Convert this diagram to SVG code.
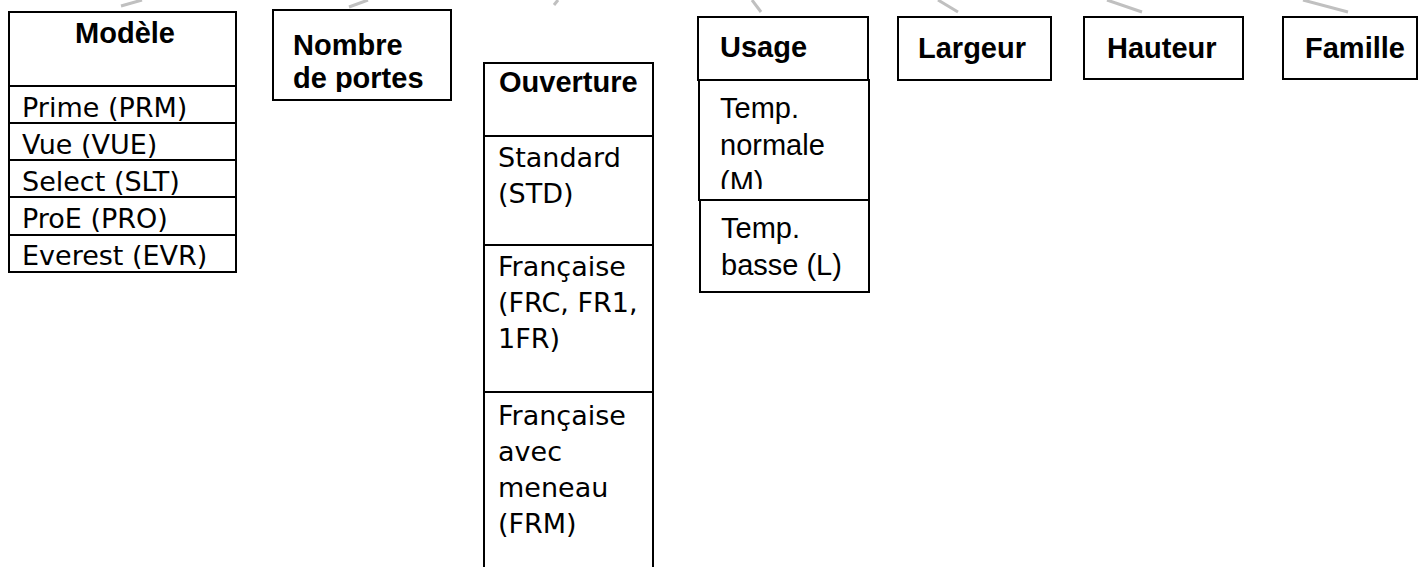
<svg xmlns="http://www.w3.org/2000/svg" width="1419" height="567" viewBox="0 0 1419 567">
<style>
.box{fill:#fff;stroke:#000;stroke-width:2}
.hd{font-family:"Liberation Sans",Arial,sans-serif;font-weight:bold;font-size:29px;fill:#000}
.cg{font-family:"DejaVu Sans","Liberation Sans",sans-serif;font-size:27px;fill:#000}
.ar{font-family:"Liberation Sans",Arial,sans-serif;font-size:29px;fill:#000}
.conn{stroke:#c0c0c0;stroke-width:3;fill:none}
</style>
<defs>
<clipPath id="clipNombre"><rect x="274" y="11" width="176" height="81"/></clipPath>
<clipPath id="clipNormale"><rect x="700" y="81" width="168" height="108"/></clipPath>
</defs>
<g id="connectors">
<line class="conn" x1="121" y1="6" x2="142" y2="0"/>
<line class="conn" x1="349" y1="7" x2="368" y2="0"/>
<line class="conn" x1="554" y1="5" x2="558" y2="0"/>
<line class="conn" x1="752" y1="0" x2="761" y2="12"/>
<line class="conn" x1="938" y1="0" x2="958" y2="12"/>
<line class="conn" x1="1107" y1="0" x2="1142" y2="12"/>
<line class="conn" x1="1303" y1="0" x2="1348" y2="12"/>
</g>
<g id="modele">
<rect class="box" x="9" y="12" width="227" height="260"/>
<line stroke="#000" stroke-width="2" x1="9" y1="86" x2="236" y2="86"/>
<line stroke="#000" stroke-width="2" x1="9" y1="123" x2="236" y2="123"/>
<line stroke="#000" stroke-width="2" x1="9" y1="160" x2="236" y2="160"/>
<line stroke="#000" stroke-width="2" x1="9" y1="197" x2="236" y2="197"/>
<line stroke="#000" stroke-width="2" x1="9" y1="235" x2="236" y2="235"/>
<text class="hd" x="125" y="43" text-anchor="middle">Modèle</text>
<text class="cg" x="22" y="117">Prime (PRM)</text>
<text class="cg" x="22" y="154">Vue (VUE)</text>
<text class="cg" x="22" y="191">Select (SLT)</text>
<text class="cg" x="22" y="228">ProE (PRO)</text>
<text class="cg" x="22" y="265">Everest (EVR)</text>
</g>
<g id="nombre">
<rect class="box" x="273" y="10" width="178" height="90"/>
<g clip-path="url(#clipNombre)">
<text class="hd" x="293" y="55">Nombre</text>
<text class="hd" x="293" y="88">de portes</text>
</g>
</g>
<g id="ouverture">
<rect class="box" x="484" y="63" width="169" height="540"/>
<line stroke="#000" stroke-width="2" x1="484" y1="136" x2="653" y2="136"/>
<line stroke="#000" stroke-width="2" x1="484" y1="245" x2="653" y2="245"/>
<line stroke="#000" stroke-width="2" x1="484" y1="392" x2="653" y2="392"/>
<text class="hd" x="499" y="92">Ouverture</text>
<text class="cg" x="498" y="167">Standard</text>
<text class="cg" x="498" y="203">(STD)</text>
<text class="cg" x="498" y="276">Française</text>
<text class="cg" x="498" y="312">(FRC, FR1,</text>
<text class="cg" x="498" y="348">1FR)</text>
<text class="cg" x="498" y="425">Française</text>
<text class="cg" x="498" y="461">avec</text>
<text class="cg" x="498" y="497">meneau</text>
<text class="cg" x="498" y="533">(FRM)</text>
</g>
<g id="usage">
<rect class="box" x="698" y="17" width="170" height="63"/>
<rect class="box" x="699" y="80" width="170" height="120"/>
<rect class="box" x="700" y="200" width="169" height="92"/>
<text class="hd" x="720" y="57">Usage</text>
<g clip-path="url(#clipNormale)">
<text class="ar" x="720" y="118">Temp.</text>
<text class="ar" x="720" y="155">normale</text>
<text class="ar" x="720" y="192">(M)</text>
</g>
<text class="ar" x="721" y="238">Temp.</text>
<text class="ar" x="721" y="275">basse (L)</text>
</g>
<g id="largeur">
<rect class="box" x="898" y="17" width="153" height="63"/>
<text class="hd" x="918" y="58">Largeur</text>
</g>
<g id="hauteur">
<rect class="box" x="1084" y="17" width="159" height="62"/>
<text class="hd" x="1107" y="58">Hauteur</text>
</g>
<g id="famille">
<rect class="box" x="1283" y="17" width="134" height="62"/>
<text class="hd" x="1305" y="58">Famille</text>
</g>
</svg>
